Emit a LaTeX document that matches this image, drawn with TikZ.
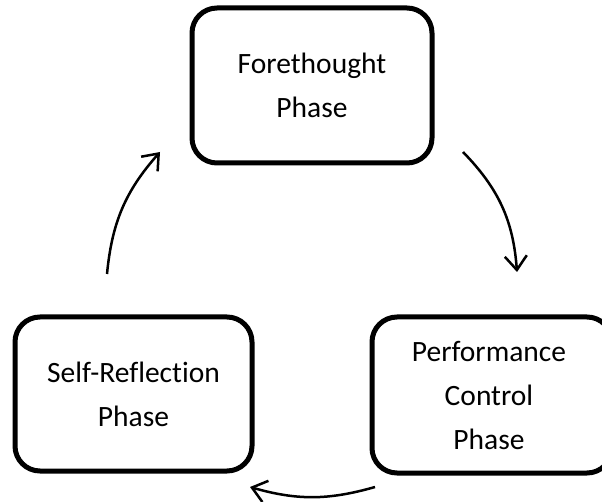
\documentclass[tikz,border=0pt]{standalone}
\usepackage{fontspec}
\setmainfont{Carlito}[Ligatures=NoCommon]
\usetikzlibrary{arrows.meta}
\begin{document}
\begin{tikzpicture}[x=1pt,y=-1pt,
  phasebox/.style={draw=black, line width=5pt, rounded corners=25pt,
    align=center, inner sep=0pt,
    font=\fontsize{29.5}{44}\selectfont},
  cyclearrow/.style={line width=2.5pt,
    -{Straight Barb[length=14pt,width=22pt]}, bend left=20}
]
\useasboundingbox (0,0) rectangle (602,502);
\node[phasebox, minimum width=240pt, minimum height=155pt] (fore) at (312,85.5) {Forethought\\Phase};
\node[phasebox, minimum width=237pt, minimum height=154pt] (self) at (133.5,394) {Self-Reflection\\Phase};
\node[phasebox, minimum width=240pt, minimum height=156pt] (perf) at (492,395) {\hspace*{-6pt}Performance\\\hspace*{-6pt}Control\\\hspace*{-6pt}Phase};
\coordinate (a1s) at (463,152);
\coordinate (a1e) at (517,272);
\coordinate (a2s) at (375,487);
\coordinate (a2e) at (250,487);
\coordinate (a3s) at (107,274);
\coordinate (a3e) at (160,152);
\draw[cyclearrow] (a1s) to (a1e);
\draw[cyclearrow, bend left=16] (a2s) to (a2e);
\draw[cyclearrow, bend left=18] (a3s) to (a3e);
\end{tikzpicture}
\end{document}
